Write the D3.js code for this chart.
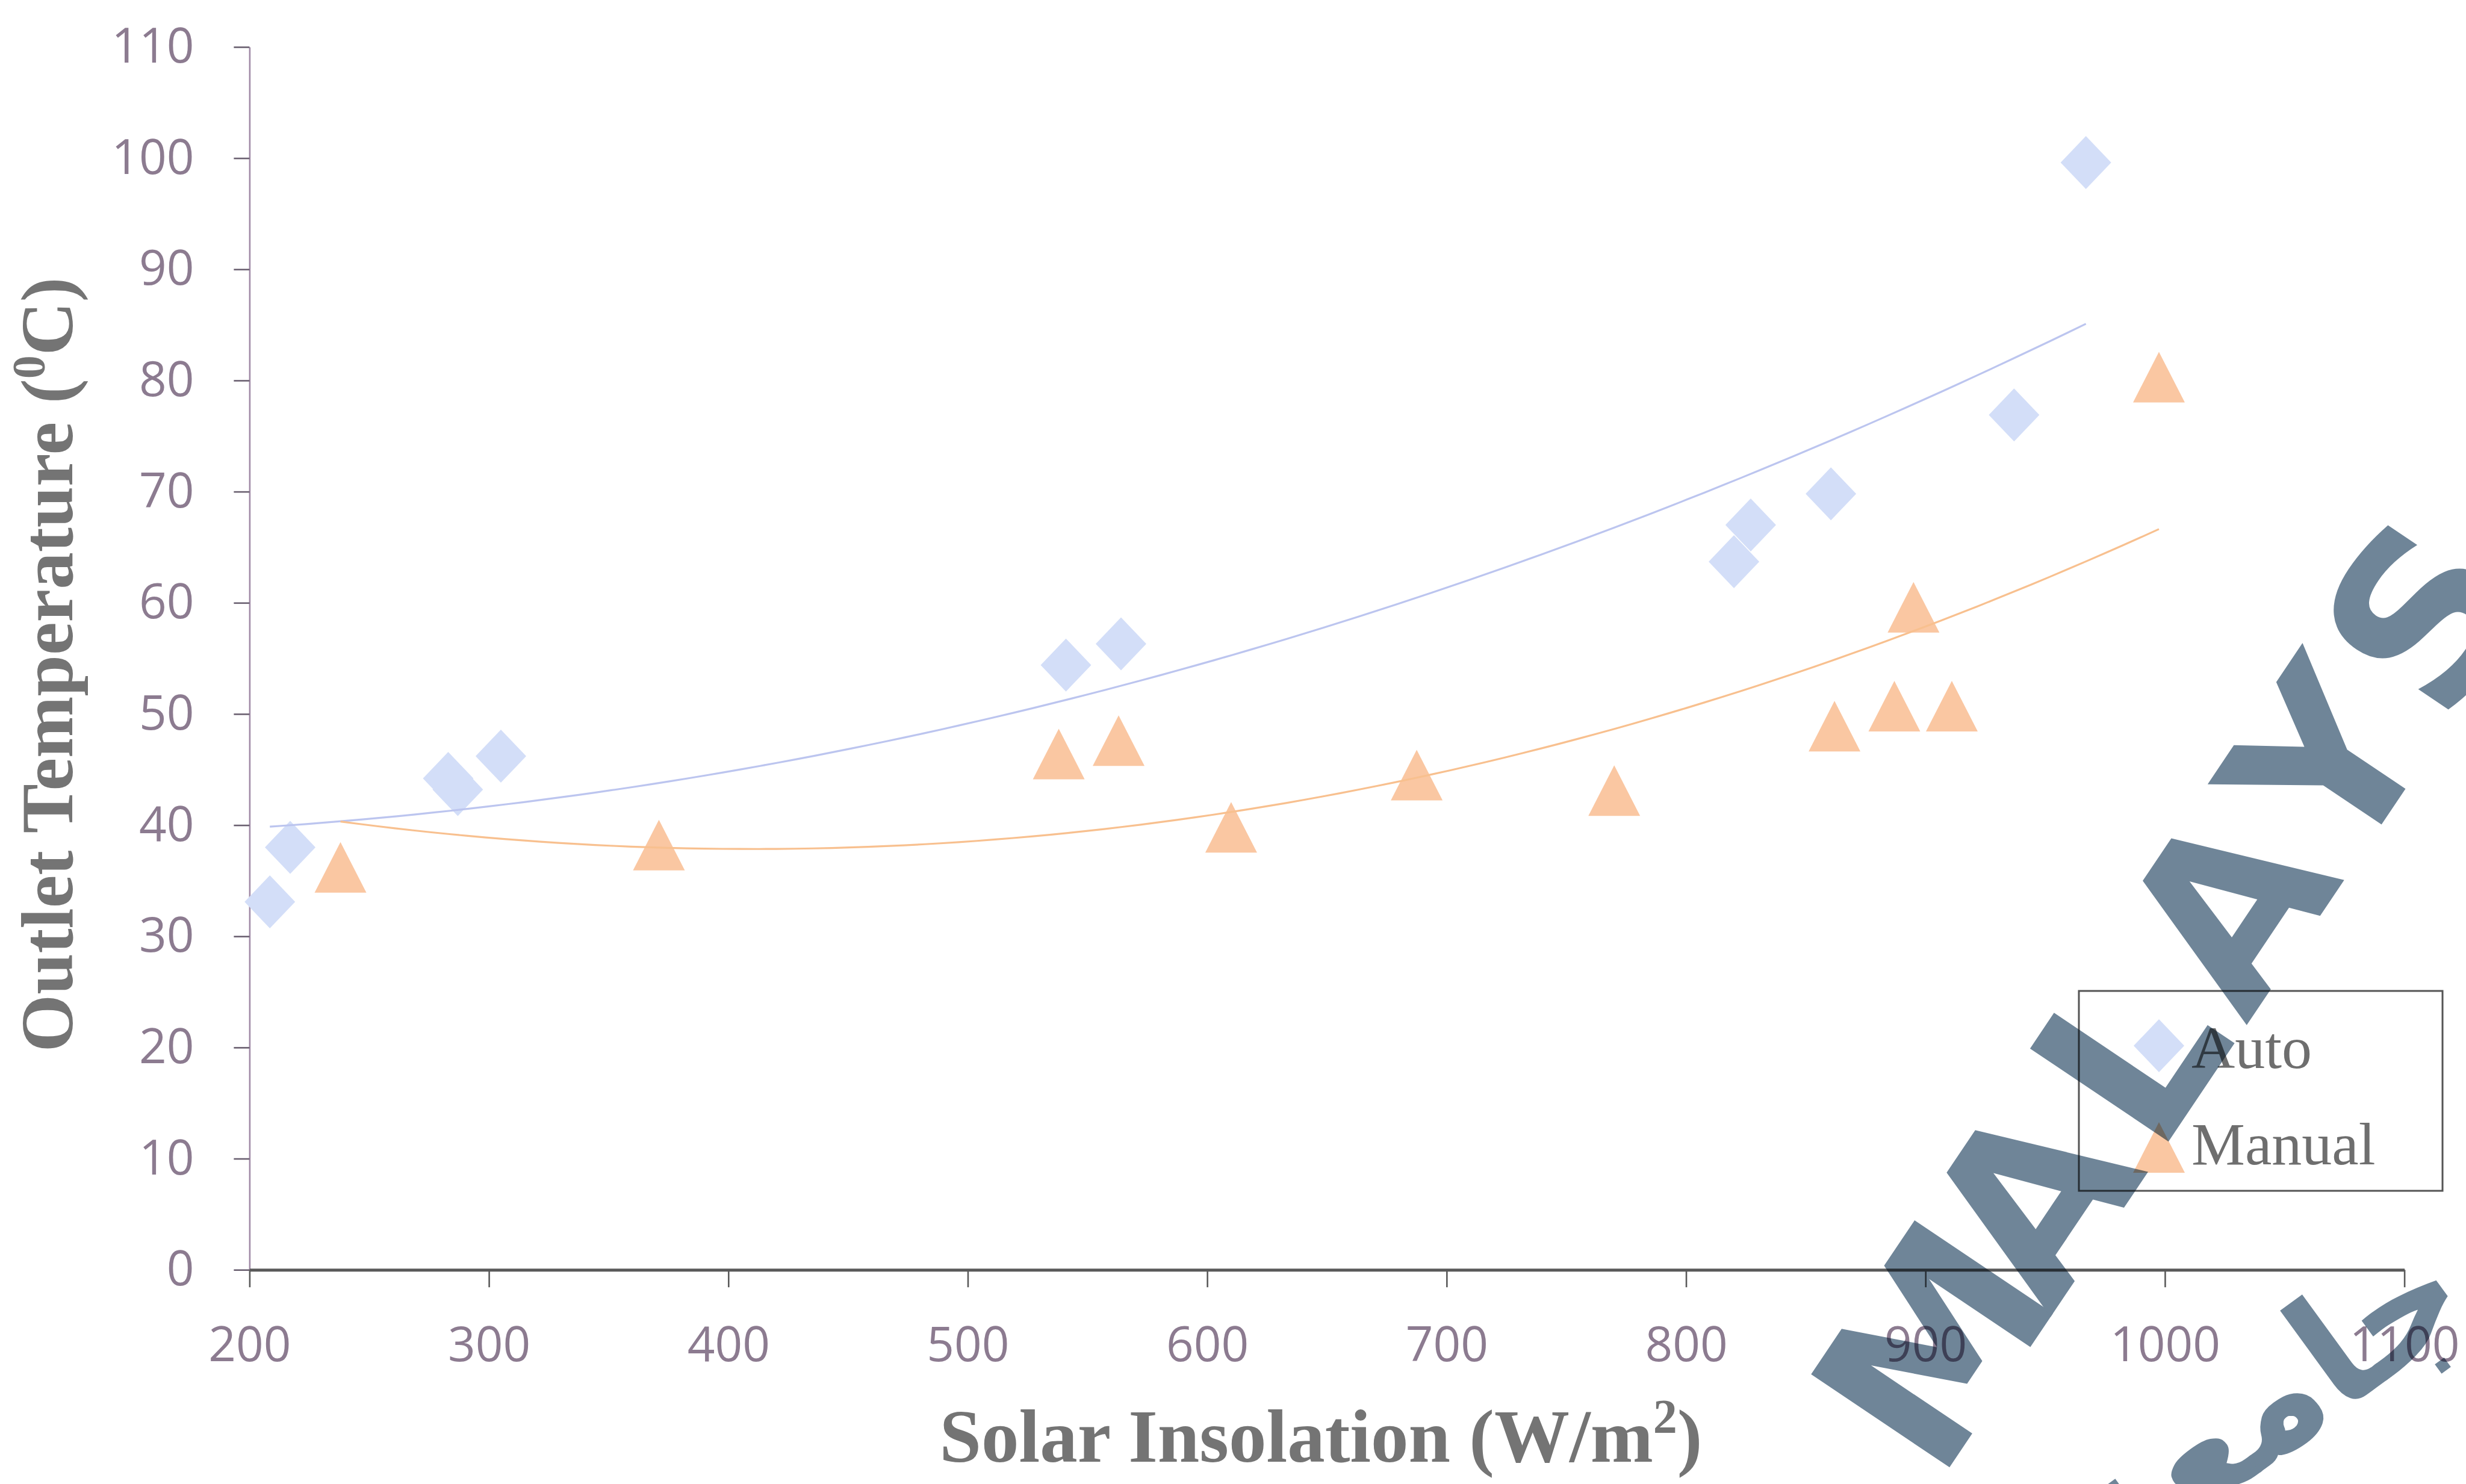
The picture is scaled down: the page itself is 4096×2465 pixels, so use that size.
<!DOCTYPE html>
<html><head><meta charset="utf-8">
<script src="https://cdn.jsdelivr.net/npm/d3@7"></script>
<style>html,body{margin:0;padding:0;background:#fff;} svg{display:block}</style>
</head><body>
<svg id="chart" width="4096" height="2465"></svg>
<script>
// ---- data ----
const seriesNames = ["Auto", "Manual"];
const autoX   = [208.5, 217, 283, 287, 305, 541, 564, 820, 827, 860.5, 937, 967];
const autoY   = [33.1, 38.0, 44.2, 43.2, 46.2, 54.4, 56.3, 63.7, 67.0, 69.8, 76.9, 99.6];
const manualX = [238, 371, 538, 563, 610, 687.5, 770, 862, 887, 895, 911, 997.5];
const manualY = [36.2, 38.2, 46.4, 47.6, 39.8, 44.5, 43.1, 48.9, 50.7, 59.6, 50.7, 80.3];
const xTicks = [200, 300, 400, 500, 600, 700, 800, 900, 1000, 1100];
const yTicks = [0, 10, 20, 30, 40, 50, 60, 70, 80, 90, 100, 110];
const xTitleMain = "Solar Insolation (W/m", xTitleSup = "2", xTitleEnd = ")";
const yTitleMain = "Outlet Temperature (", yTitleSup = "0", yTitleEnd = "C)";
const watermarkLetters = ["M", "A", "L", "A", "Y", "S"];
const watermarkJawi = "جامعة";

// ---- layout ----
const svg = d3.select("#chart");
const x = d3.scaleLinear().domain([200, 1100]).range([414.4, 3993.6]);
const y = d3.scaleLinear().domain([0, 110]).range([2109.2, 78]);

const labelColor = "#8c7b90";
const tickFont = "'Open Sans', sans-serif";

// y axis
const gy = svg.append("g").attr("transform", `translate(${x(200)},0)`)
  .call(d3.axisLeft(y).tickValues(yTicks).tickFormat(d3.format("d")).tickSize(26).tickSizeOuter(0).tickPadding(66));
gy.select(".domain").attr("stroke", "#a08aa6").attr("stroke-width", 2.6);
gy.selectAll(".tick line").attr("stroke", "#6a6070").attr("stroke-width", 2.6);
gy.selectAll(".tick text").attr("fill", labelColor).attr("font-family", tickFont)
  .attr("font-size", 80);

// x axis
const gx = svg.append("g").attr("transform", `translate(0,${y(0)})`)
  .call(d3.axisBottom(x).tickValues(xTicks).tickFormat(d3.format("d")).tickSize(29).tickSizeOuter(0).tickPadding(66));
gx.select(".domain").attr("stroke", "#5a5a5a").attr("stroke-width", 5);
gx.selectAll(".tick line").attr("stroke", "#5a5a5a").attr("stroke-width", 2.6);
gx.selectAll(".tick text").attr("fill", labelColor).attr("font-family", tickFont)
  .attr("font-size", 80);

// axis titles
const xt = svg.append("text").attr("x", (x(200) + x(1100)) / 2 - 10).attr("y", 2428)
  .attr("text-anchor", "middle").attr("font-family", "'Liberation Serif', 'Times New Roman', serif")
  .attr("font-weight", "bold").attr("font-size", 125).attr("fill", "#747474");
xt.append("tspan").text(xTitleMain);
xt.append("tspan").text(xTitleSup).attr("font-size", 80).attr("dy", -48);
xt.append("tspan").text(xTitleEnd).attr("dy", 48);

const yt = svg.append("text").attr("transform", "translate(120,1104) rotate(-90)")
  .attr("text-anchor", "middle").attr("font-family", "'Liberation Serif', 'Times New Roman', serif")
  .attr("font-weight", "bold").attr("font-size", 123).attr("fill", "#747474");
yt.append("tspan").text(yTitleMain);
yt.append("tspan").text(yTitleSup).attr("font-size", 78).attr("dy", -46);
yt.append("tspan").text(yTitleEnd).attr("dy", 46);

// ---- markers ----
const diamondPath = (w, h) => `M0,${-h/2}L${w/2},0L0,${h/2}L${-w/2},0Z`;
const trianglePath = (w, h) => `M0,${-h/2}L${w/2},${h/2}L${-w/2},${h/2}Z`;
const autoFill = "#d3def8", manualFill = "#fac7a2";
const DW = 84, DH = 88, TW = 86, TH = 84;

const autoData = autoX.map((v, i) => [v, autoY[i]]);
const manualData = manualX.map((v, i) => [v, manualY[i]]);

svg.append("g").selectAll("path").data(autoData).join("path")
  .attr("d", diamondPath(DW, DH))
  .attr("transform", d => `translate(${x(d[0])},${y(d[1])})`)
  .attr("fill", autoFill);
svg.append("g").selectAll("path").data(manualData).join("path")
  .attr("d", trianglePath(TW, TH))
  .attr("transform", d => `translate(${x(d[0])},${y(d[1])})`)
  .attr("fill", manualFill);

// ---- polynomial (order 2) trend lines, least squares ----
function quadFit(xs, ys) {
  let S = [0,0,0,0,0], T = [0,0,0];
  xs.forEach((xv, i) => {
    let p = 1;
    for (let k = 0; k < 5; k++) { S[k] += p; if (k < 3) T[k] += p * ys[i]; p *= xv; }
  });
  const A = [[S[0],S[1],S[2],T[0]],[S[1],S[2],S[3],T[1]],[S[2],S[3],S[4],T[2]]];
  for (let c = 0; c < 3; c++) {
    for (let r = c + 1; r < 3; r++) {
      const f = A[r][c] / A[c][c];
      for (let k = c; k < 4; k++) A[r][k] -= f * A[c][k];
    }
  }
  const b = [0,0,0];
  for (let r = 2; r >= 0; r--) {
    let s = A[r][3];
    for (let k = r + 1; k < 3; k++) s -= A[r][k] * b[k];
    b[r] = s / A[r][r];
  }
  return xv => b[0] + b[1] * xv + b[2] * xv * xv;
}
function trend(xs, ys, color) {
  const f = quadFit(xs, ys);
  const [lo, hi] = d3.extent(xs);
  const pts = d3.range(0, 101).map(i => { const xv = lo + (hi - lo) * i / 100; return [xv, f(xv)]; });
  svg.append("path").datum(pts)
    .attr("d", d3.line().x(d => x(d[0])).y(d => y(d[1])))
    .attr("fill", "none").attr("stroke", color).attr("stroke-width", 3.2);
}
trend(autoX, autoY, "#bcc5ef");
trend(manualX, manualY, "#f8c08f");

// ---- legend ----
const lg = svg.append("g");
lg.append("rect").attr("x", 3453).attr("y", 1646).attr("width", 604).attr("height", 332)
  .attr("fill", "#fff").attr("stroke", "#555").attr("stroke-width", 3);
lg.append("path").attr("d", diamondPath(DW, DH)).attr("transform", "translate(3586,1737)").attr("fill", autoFill);
lg.append("path").attr("d", trianglePath(TW, TH)).attr("transform", "translate(3586,1906)").attr("fill", manualFill);
lg.selectAll("text.leg").data(seriesNames).join("text").attr("class", "leg")
  .attr("x", 3640).attr("y", (d, i) => i === 0 ? 1774 : 1934)
  .attr("font-family", "'Liberation Serif', 'Times New Roman', serif")
  .attr("font-size", 100).attr("fill", "#6e6e6e").text(d => d);

// ---- scan watermark ----
const wm = svg.append("g").style("mix-blend-mode", "multiply");
const ang = -56.1, rad = ang * Math.PI / 180, step = 292;
const start = [3215, 2236];
wm.selectAll("text.wl").data(watermarkLetters).join("text").attr("class", "wl")
  .attr("transform", (d, i) => `translate(${start[0] + i * step * Math.cos(rad)},${start[1] + i * step * Math.sin(rad)}) rotate(${ang})`)
  .attr("text-anchor", "middle").attr("dominant-baseline", "central")
  .attr("font-family", "'DejaVu Sans', sans-serif").attr("font-weight", "bold")
  .attr("font-size", 380).attr("fill", "#6f8598").text(d => d);
wm.append("text").attr("class", "wj")
  .attr("transform", `translate(3760,2330) rotate(${ang + 20})`)
  .attr("text-anchor", "middle").attr("dominant-baseline", "central")
  .attr("font-family", "'DejaVu Sans', sans-serif").attr("font-weight", "bold")
  .attr("font-size", 260).attr("fill", "#6f8598").text(watermarkJawi);
</script>
</body></html>
